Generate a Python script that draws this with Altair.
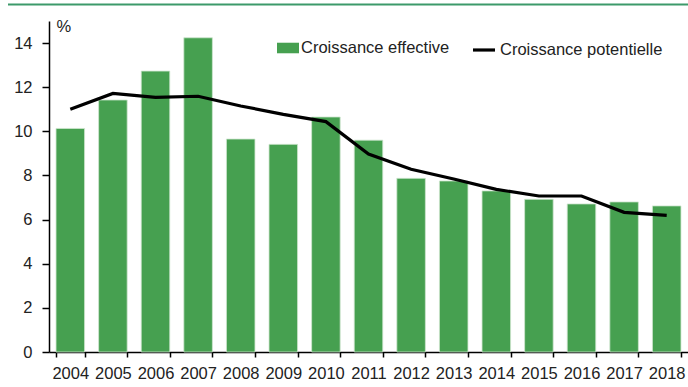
import altair as alt
import pandas as pd

years = [str(y) for y in range(2004, 2019)]
effective = [10.13, 11.42, 12.73, 14.24, 9.65, 9.41, 10.65, 9.6, 7.87, 7.75, 7.3, 6.92, 6.71, 6.8, 6.62]
potential = [11.0, 11.72, 11.54, 11.59, 11.15, 10.77, 10.44, 8.97, 8.28, 7.84, 7.37, 7.07, 7.07, 6.33, 6.19]
y_ticks = [0, 2, 4, 6, 8, 10, 12, 14]

df = pd.DataFrame({"year": years, "eff": effective, "pot": potential})

FONT = "Liberation Sans"
FS = 16.5
BAR = "#46a050"

x_enc = alt.X(
    "year:N",
    sort=years,
    scale=alt.Scale(paddingInner=0.33, paddingOuter=0.165),
    axis=alt.Axis(
        title=None,
        labelAngle=0,
        tickBand="extent",
        tickSize=5,
        labelPadding=8,
        domainColor="black",
        tickColor="black",
        domainWidth=1.5,
        tickWidth=1.5,
    ),
)

bars = (
    alt.Chart(df)
    .transform_calculate(s="'Croissance effective'")
    .mark_bar(stroke="#cfe6cf", strokeWidth=0.8)
    .encode(
        x=x_enc,
        y=alt.Y(
            "eff:Q",
            scale=alt.Scale(domain=[0, 15], nice=False),
            axis=alt.Axis(
                values=y_ticks,
                title="%",
                titleAngle=0,
                titleAlign="left",
                titleBaseline="alphabetic",
                titleX=7,
                titleY=10,
                titleFontSize=FS,
                titleFontWeight="normal",
                titleFont=FONT,
                titleColor="#222",
                tickSize=7,
                labelPadding=10,
                grid=False,
                domainColor="black",
                tickColor="black",
                domainWidth=1.5,
                tickWidth=1.5,
            ),
        ),
        fill=alt.Fill(
            "s:N",
            scale=alt.Scale(domain=["Croissance effective"], range=[BAR]),
            legend=alt.Legend(
                title=None,
                orient="none",
                legendX=228,
                legendY=16,
                padding=0,
                symbolType="M-1,-0.48H1V0.48H-1Z",
                symbolSize=484,
                symbolStrokeWidth=0,
                symbolOpacity=1,
                labelOffset=2,
                labelLimit=400,
            ),
        ),
    )
)

line = (
    alt.Chart(df)
    .transform_calculate(s="'Croissance potentielle'")
    .mark_line(strokeWidth=3.2)
    .encode(
        x=alt.X("year:N", sort=years),
        y=alt.Y("pot:Q"),
        stroke=alt.Stroke(
            "s:N",
            scale=alt.Scale(domain=["Croissance potentielle"], range=["black"]),
            legend=alt.Legend(
                title=None,
                orient="none",
                legendX=422,
                legendY=16,
                padding=0,
                symbolType="stroke",
                symbolSize=484,
                symbolStrokeWidth=3.2,
                labelOffset=3,
                labelLimit=400,
            ),
        ),
    )
)

top_rule = (
    alt.Chart(pd.DataFrame({"k": [0]}))
    .mark_rule(color="#3c9a6a", strokeWidth=2.2)
    .encode(x=alt.value(-41), x2=alt.value(700), y=alt.value(-16.5))
)

chart = (
    alt.layer(bars, line, top_rule)
    .properties(
        width=639,
        height=331,
        padding={"left": 49, "top": 21, "right": 0, "bottom": 35},
        autosize=alt.AutoSizeParams(type="none"),
        background="white",
    )
    .configure(font=FONT)
    .configure_view(stroke=None)
    .configure_axis(labelFontSize=FS, labelColor="#222", labelFont=FONT)
    .configure_legend(labelFontSize=FS, labelColor="#222", labelFont=FONT)
)

chart.save("out.html", embed_options={"renderer": "svg", "actions": False})
